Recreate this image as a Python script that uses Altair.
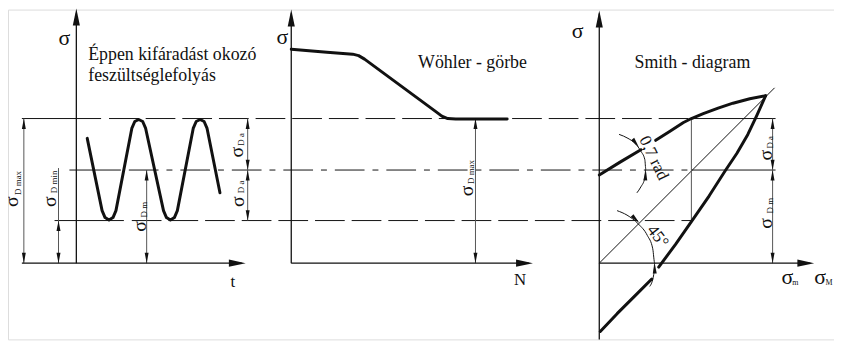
import altair as alt
import pandas as pd

# ---------------- drawing data (figure coordinates, y grows downward) ----------------
# thick curves
wave_x = [88, 103, 106, 110, 114, 117, 133, 136, 140, 144, 147, 165, 168, 172, 176, 179, 195, 198, 202, 206, 209, 222]
wave_y = [138, 211, 218, 220.5, 218, 211, 128, 121, 119, 121, 128, 211, 218, 220.5, 218, 211, 128, 121, 119, 121, 128, 193]

woehler_x = [294, 330, 356, 362, 368, 440, 446, 452, 460, 512]
woehler_y = [48, 51, 53, 54.5, 58, 111, 115.5, 118, 118.5, 118.5]

smith_up_a_x = [605, 626, 647]
smith_up_a_y = [175, 162, 149.5]
smith_up_b_x = [662, 676, 690, 698, 710, 725, 740, 757, 773]
smith_up_b_y = [140, 131, 122, 118, 113, 107.5, 102.5, 98, 95]
smith_low_a_x = [773, 764, 755, 744, 732, 716, 698, 682, 665]
smith_low_a_y = [95, 115, 134, 153, 171, 196, 222, 245, 268]
smith_low_b_x = [658, 641, 623, 606]
smith_low_b_y = [280, 297, 315, 333]

# thin arcs of the angle marks
arc07_x = [625, 634, 641.5, 647, 651, 652, 651, 647, 643]
arc07_y = [134, 138, 143.5, 151, 159.5, 169, 178, 187, 193]
arc45_x = [623, 633, 644.5, 653.5, 659, 661, 660, 656]
arc45_y = [211, 215.5, 224.5, 236, 249.5, 264, 275.5, 287.5]

# axes  (x1, y1, x2, y2)
axes_black = [(77, 12, 77, 264), (22, 264, 244, 264),
              (294, 12, 294, 264), (294, 264, 534, 264),
              (605, 12, 605, 341), (605, 264, 818, 264)]
# dimension / helper lines (grey)
dim_lines = [(24, 118, 24, 264), (59, 168, 59, 264), (148, 170, 148, 264),
             (250, 118, 250, 221), (480, 118, 480, 264), (780, 118, 780, 264),
             (698, 118, 698, 221)]
# thin solid lines
thin_solid = [(22, 118, 102, 118), (55, 221, 125, 221), (70, 170, 122, 170),
              (698, 118, 783, 118), (698, 170, 783, 170), (605, 264, 782, 87)]
dashed = [(110, 118, 698, 118), (133, 221, 698, 221)]
dashdot = [(130, 170, 698, 170)]

# arrowheads: (tip x, tip y, direction angle)
axis_heads = [(77, 7, 0), (248, 264, 90), (294, 8, 0), (538, 264, 90), (605, 9, 0), (822, 264, 90)]
dim_heads = [(24, 118, 0), (24, 264, 180), (59, 221, 0), (59, 264, 180),
             (148, 170, 0), (148, 264, 180),
             (250, 118, 0), (250, 170, 180), (250, 170, 0), (250, 221, 180),
             (480, 118, 0), (480, 264, 180),
             (780, 118, 0), (780, 170, 180), (780, 170, 0), (780, 264, 180),
             (645, 147, 143), (652, 170, 3), (645.5, 223.5, 135), (661, 264, 0)]

# texts
sigma_rot = [(12.5, 202), (50, 202), (141, 227), (239, 152), (240, 202), (472, 191), (773, 155), (773, 224)]
sub_rot = [(18, 183, "D max"), (54, 182, "D min"), (145, 210, "D m"), (243, 139, "D a"),
           (243, 187, "D a"), (476, 172, "D max"), (777, 142, "D a"), (777, 206, "D m")]
sigma_axis = [(65, 36.5), (285, 35.5), (583, 29.5), (795, 278), (828, 278)]
sub_small = [(803, 284, "m"), (837, 284, "M")]
axis_letters = [(235, 283, "t"), (525, 281, "N")]
titles_center = [(477, 67, "Wöhler - görbe"), (699, 67, "Smith - diagram")]
titles_left = [(89, 59, "Éppen kifáradást okozó"), (89, 80, "feszültséglefolyás")]
angle_texts = [(660, 158, "0,7 rad", 64), (664, 237, "45°", 52)]

FONT = "Liberation Serif, Times New Roman, DejaVu Serif, serif"
INK = "#111111"
GREY = "#555555"

# ---------------- build tables ----------------
def poly_df(curves):
    rows = []
    for g, (xs_, ys_) in enumerate(curves):
        for i, (a, b) in enumerate(zip(xs_, ys_)):
            rows.append({"x": a, "y": b, "g": g, "i": i})
    return pd.DataFrame(rows)

def seg_df(segs):
    return pd.DataFrame(segs, columns=["x", "y", "x2", "y2"])

X = alt.Scale(domain=[8, 842], nice=False, zero=False)
Y = alt.Scale(domain=[8, 341], nice=False, zero=False, reverse=True)

def xe(f="x"):
    return alt.X(f"{f}:Q", scale=X, axis=None)

def ye(f="y"):
    return alt.Y(f"{f}:Q", scale=Y, axis=None)

thick = alt.Chart(poly_df([(wave_x, wave_y), (woehler_x, woehler_y),
                           (smith_up_a_x, smith_up_a_y), (smith_up_b_x, smith_up_b_y),
                           (smith_low_a_x, smith_low_a_y), (smith_low_b_x, smith_low_b_y)])
                  ).mark_line(color=INK, strokeWidth=3, strokeCap="round", strokeJoin="round").encode(
    x=xe(), y=ye(), detail="g:N", order="i:Q")

arcs = alt.Chart(poly_df([(arc07_x, arc07_y), (arc45_x, arc45_y)])).mark_line(
    color=INK, strokeWidth=1, interpolate="monotone").encode(x=xe(), y=ye(), detail="g:N", order="i:Q")

def rules(segs, **kw):
    return alt.Chart(seg_df(segs)).mark_rule(**kw).encode(
        x=xe(), y=ye(), x2="x2:Q", y2="y2:Q")

r_axes = rules(axes_black, color=INK, strokeWidth=1.3)
r_dim = rules(dim_lines, color=GREY, strokeWidth=1)
r_thin = rules(thin_solid, color=INK, strokeWidth=1)
r_dash = rules(dashed, color=INK, strokeWidth=1, strokeDash=[30, 7])
r_dashdot = rules(dashdot, color=INK, strokeWidth=1, strokeDash=[30, 8, 6, 8])

def heads(items, path, size):
    df = pd.DataFrame(items, columns=["x", "y", "a"])
    return alt.Chart(df).mark_point(shape=path, filled=True, color=INK, opacity=1,
                                    size=size, strokeWidth=0).encode(
        x=xe(), y=ye(), angle=alt.Angle("a:Q", scale=None))

h_axes = heads(axis_heads, "M0,0L0.42,2L-0.42,2Z", 289)
h_dim = heads(dim_heads, "M0,0L0.38,2L-0.38,2Z", 110)

def texts(rows, cols, size, angle=0, align="center", baseline="middle"):
    df = pd.DataFrame(rows, columns=cols)
    return alt.Chart(df).mark_text(font=FONT, fontSize=size, angle=angle, align=align,
                                   baseline=baseline, color=INK).encode(
        x=xe(), y=ye(), text="t:N")

t_sig_rot = texts([(a, b, "σ") for a, b in sigma_rot], ["x", "y", "t"], 20, angle=270)
t_sub_rot = texts(sub_rot, ["x", "y", "t"], 9, angle=270)
t_sig_ax = texts([(a, b, "σ") for a, b in sigma_axis], ["x", "y", "t"], 22)
t_sub_small = texts(sub_small, ["x", "y", "t"], 8)
t_letters = texts(axis_letters, ["x", "y", "t"], 17)
t_titles = texts(titles_center, ["x", "y", "t"], 18, baseline="alphabetic")
t_left = texts(titles_left, ["x", "y", "t"], 18, align="left", baseline="alphabetic")
t_ang = [texts([r[:3]], ["x", "y", "t"], 17, angle=r[3]) for r in angle_texts]

chart = alt.layer(
    r_dash, r_dashdot, r_thin, r_dim, r_axes, arcs, thick, h_axes, h_dim,
    t_sig_rot, t_sub_rot, t_sig_ax, t_sub_small, t_letters, t_titles, t_left, *t_ang
).properties(width=834, height=333, padding=0, autosize=alt.AutoSizeParams(type="none")
).configure_view(stroke=None).configure(background="white")

chart.save("out.html", embed_options={"renderer": "svg", "actions": False})
